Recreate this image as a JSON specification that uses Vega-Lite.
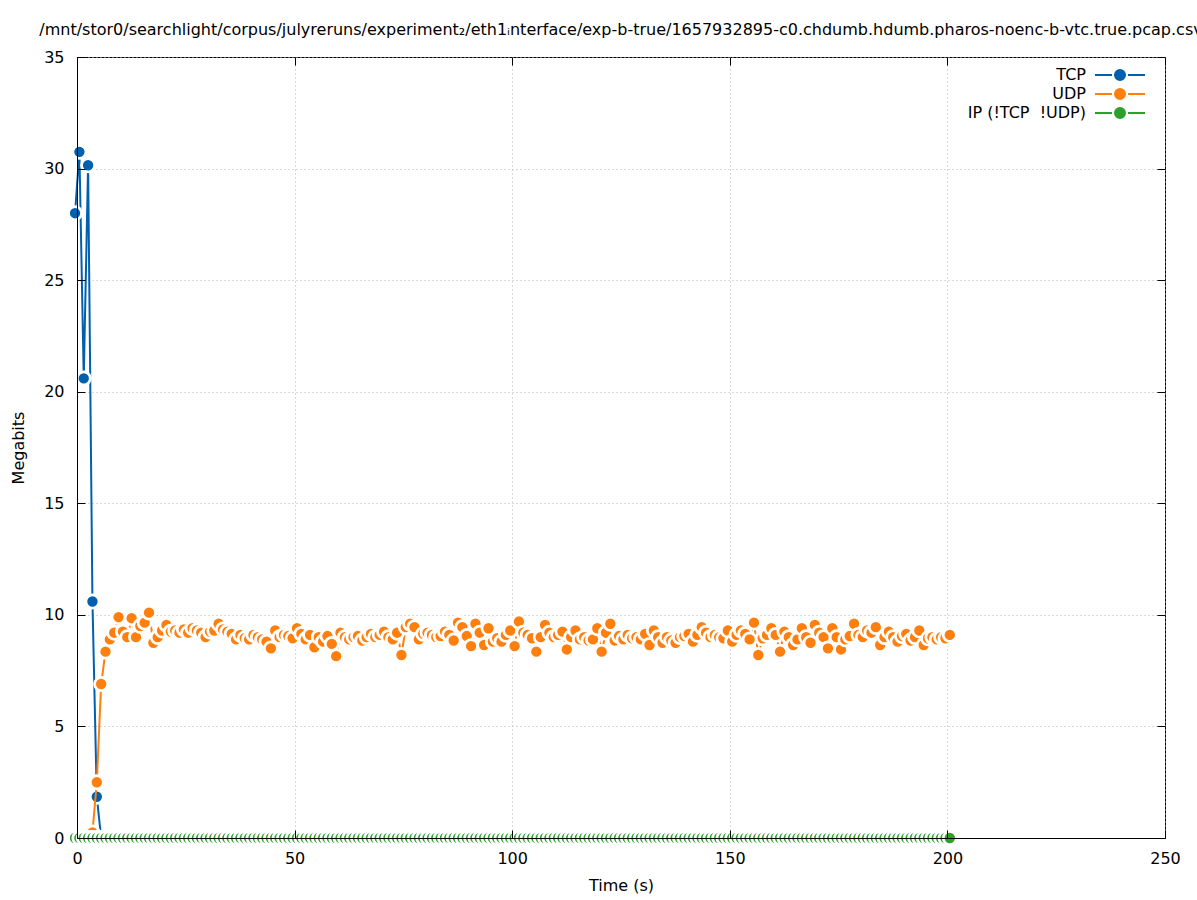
{
  "$schema": "https://vega.github.io/schema/vega-lite/v6.json",
  "autosize": {"type": "none"},
  "padding": {"left": 77, "top": 57, "right": 32, "bottom": 62},
  "width": 1088,
  "height": 781,
  "title": {"text": "/mnt/stor0/searchlight/corpus/julyreruns/experiment₂/eth1ᵢnterface/exp-b-true/1657932895-c0.chdumb.hdumb.pharos-noenc-b-vtc.true.pcap.csv", "fontSize": 16, "font": "DejaVu Sans", "fontWeight": "normal", "offset": 11, "anchor": "middle", "color": "black"},
  "config": {
    "view": {"stroke": "black", "strokeWidth": 1},
    "font": "DejaVu Sans",
    "axis": {"labelFont": "DejaVu Sans", "labelFontSize": 16, "labelColor": "black", "labelFlush": false, "titleFont": "DejaVu Sans", "titleFontSize": 16, "titleFontWeight": "normal", "titleColor": "black", "tickColor": "black", "tickSize": -8, "tickWidth": 1, "domainColor": "black", "domainWidth": 1, "gridColor": "#b4b4b4", "gridDash": [1, 3], "gridWidth": 1},
    "legend": {"orient": "none", "legendX": 1035, "legendY": 10, "symbolType": "M-5,0L-1.6,0M1.6,0L5,0M1,0A1,1,0,1,1,-1,0A1,1,0,1,1,1,0Z", "symbolSize": 100, "symbolStrokeWidth": 2, "labelAlign": "right", "labelOffset": -42, "labelFontSize": 16, "labelFont": "DejaVu Sans", "labelColor": "black", "rowPadding": 1, "padding": 0}
  },
  "datasets": {
    "tcp": [{"t": -0.45, "v": 28.0}, {"t": 0.55, "v": 30.75}, {"t": 1.55, "v": 20.6}, {"t": 2.55, "v": 30.15}, {"t": 3.55, "v": 10.6}, {"t": 4.55, "v": 1.85}, {"t": 5.55, "v": 0}],
    "udp": [
      {"t":3.55,"v":0.25},{"t":4.55,"v":2.5},{"t":5.55,"v":6.9},{"t":6.55,"v":8.35},{"t":7.55,"v":8.9},{"t":8.55,"v":9.2},{"t":9.55,"v":9.9},{"t":10.55,"v":9.25},{"t":11.55,"v":9.0},{"t":12.55,"v":9.85},
      {"t":13.55,"v":9.0},{"t":14.55,"v":9.5},{"t":15.55,"v":9.65},{"t":16.55,"v":10.1},{"t":17.55,"v":8.75},{"t":18.55,"v":9.0},{"t":19.55,"v":9.3},{"t":20.55,"v":9.55},{"t":21.55,"v":9.25},{"t":22.55,"v":9.3},
      {"t":23.55,"v":9.2},{"t":24.55,"v":9.35},{"t":25.55,"v":9.2},{"t":26.55,"v":9.4},{"t":27.55,"v":9.3},{"t":28.55,"v":9.2},{"t":29.55,"v":9.0},{"t":30.55,"v":9.25},{"t":31.55,"v":9.3},{"t":32.55,"v":9.6},
      {"t":33.55,"v":9.35},{"t":34.55,"v":9.25},{"t":35.55,"v":9.15},{"t":36.55,"v":8.9},{"t":37.55,"v":9.1},{"t":38.55,"v":8.95},{"t":39.55,"v":8.9},{"t":40.55,"v":9.1},{"t":41.55,"v":9.0},{"t":42.55,"v":8.9},
      {"t":43.55,"v":8.8},{"t":44.55,"v":8.5},{"t":45.55,"v":9.3},{"t":46.55,"v":9.0},{"t":47.55,"v":9.1},{"t":48.55,"v":9.05},{"t":49.55,"v":8.95},{"t":50.55,"v":9.4},{"t":51.55,"v":9.15},{"t":52.55,"v":8.9},
      {"t":53.55,"v":9.1},{"t":54.55,"v":8.55},{"t":55.55,"v":9.0},{"t":56.55,"v":8.8},{"t":57.55,"v":9.05},{"t":58.55,"v":8.7},{"t":59.55,"v":8.15},{"t":60.55,"v":9.2},{"t":61.55,"v":9.0},{"t":62.55,"v":8.9},
      {"t":63.55,"v":9.0},{"t":64.55,"v":9.05},{"t":65.55,"v":8.85},{"t":66.55,"v":9.0},{"t":67.55,"v":9.15},{"t":68.55,"v":9.0},{"t":69.55,"v":9.1},{"t":70.55,"v":9.25},{"t":71.55,"v":9.0},{"t":72.55,"v":8.9},
      {"t":73.55,"v":9.2},{"t":74.55,"v":8.2},{"t":75.55,"v":9.45},{"t":76.55,"v":9.6},{"t":77.55,"v":9.45},{"t":78.55,"v":8.9},{"t":79.55,"v":9.15},{"t":80.55,"v":9.2},{"t":81.55,"v":9.1},{"t":82.55,"v":9.0},
      {"t":83.55,"v":9.05},{"t":84.55,"v":9.25},{"t":85.55,"v":9.1},{"t":86.55,"v":8.85},{"t":87.55,"v":9.65},{"t":88.55,"v":9.45},{"t":89.55,"v":9.05},{"t":90.55,"v":8.6},{"t":91.55,"v":9.6},{"t":92.55,"v":9.2},
      {"t":93.55,"v":8.65},{"t":94.55,"v":9.4},{"t":95.55,"v":8.8},{"t":96.55,"v":8.95},{"t":97.55,"v":8.8},{"t":98.55,"v":9.1},{"t":99.55,"v":9.3},{"t":100.55,"v":8.6},{"t":101.55,"v":9.7},{"t":102.55,"v":9.2},
      {"t":103.55,"v":9.1},{"t":104.55,"v":8.95},{"t":105.55,"v":8.35},{"t":106.55,"v":9.0},{"t":107.55,"v":9.55},{"t":108.55,"v":9.2},{"t":109.55,"v":9.0},{"t":110.55,"v":9.1},{"t":111.55,"v":9.25},{"t":112.55,"v":8.45},
      {"t":113.55,"v":9.0},{"t":114.55,"v":9.3},{"t":115.55,"v":8.9},{"t":116.55,"v":9.0},{"t":117.55,"v":8.85},{"t":118.55,"v":8.9},{"t":119.55,"v":9.4},{"t":120.55,"v":8.35},{"t":121.55,"v":9.2},{"t":122.55,"v":9.6},
      {"t":123.55,"v":8.85},{"t":124.55,"v":9.05},{"t":125.55,"v":8.9},{"t":126.55,"v":9.1},{"t":127.55,"v":8.95},{"t":128.55,"v":9.0},{"t":129.55,"v":8.9},{"t":130.55,"v":9.15},{"t":131.55,"v":8.65},{"t":132.55,"v":9.3},
      {"t":133.55,"v":9.0},{"t":134.55,"v":8.75},{"t":135.55,"v":9.0},{"t":136.55,"v":8.85},{"t":137.55,"v":8.75},{"t":138.55,"v":9.0},{"t":139.55,"v":9.05},{"t":140.55,"v":9.15},{"t":141.55,"v":8.8},{"t":142.55,"v":9.1},
      {"t":143.55,"v":9.45},{"t":144.55,"v":9.2},{"t":145.55,"v":9.0},{"t":146.55,"v":9.1},{"t":147.55,"v":9.0},{"t":148.55,"v":8.95},{"t":149.55,"v":9.3},{"t":150.55,"v":8.8},{"t":151.55,"v":9.1},{"t":152.55,"v":9.3},
      {"t":153.55,"v":9.15},{"t":154.55,"v":8.9},{"t":155.55,"v":9.65},{"t":156.55,"v":8.2},{"t":157.55,"v":8.95},{"t":158.55,"v":9.1},{"t":159.55,"v":9.4},{"t":160.55,"v":9.1},{"t":161.55,"v":8.35},{"t":162.55,"v":9.25},
      {"t":163.55,"v":9.0},{"t":164.55,"v":8.65},{"t":165.55,"v":8.9},{"t":166.55,"v":9.4},{"t":167.55,"v":9.0},{"t":168.55,"v":8.75},{"t":169.55,"v":9.55},{"t":170.55,"v":9.2},{"t":171.55,"v":9.0},{"t":172.55,"v":8.5},
      {"t":173.55,"v":9.4},{"t":174.55,"v":9.0},{"t":175.55,"v":8.45},{"t":176.55,"v":8.9},{"t":177.55,"v":9.05},{"t":178.55,"v":9.6},{"t":179.55,"v":9.1},{"t":180.55,"v":9.0},{"t":181.55,"v":9.3},{"t":182.55,"v":9.2},
      {"t":183.55,"v":9.45},{"t":184.55,"v":8.65},{"t":185.55,"v":9.0},{"t":186.55,"v":9.25},{"t":187.55,"v":9.0},{"t":188.55,"v":8.8},{"t":189.55,"v":9.05},{"t":190.55,"v":9.15},{"t":191.55,"v":8.85},{"t":192.55,"v":9.0},
      {"t":193.55,"v":9.3},{"t":194.55,"v":8.65},{"t":195.55,"v":8.95},{"t":196.55,"v":9.0},{"t":197.55,"v":8.9},{"t":198.55,"v":9.0},{"t":199.55,"v":8.95},{"t":200.55,"v":9.1}
    ],
    "ip": [
      {"t":-0.45,"v":0},{"t":0.55,"v":0},{"t":1.55,"v":0},{"t":2.55,"v":0},{"t":3.55,"v":0},{"t":4.55,"v":0},{"t":5.55,"v":0},{"t":6.55,"v":0},{"t":7.55,"v":0},{"t":8.55,"v":0},
      {"t":9.55,"v":0},{"t":10.55,"v":0},{"t":11.55,"v":0},{"t":12.55,"v":0},{"t":13.55,"v":0},{"t":14.55,"v":0},{"t":15.55,"v":0},{"t":16.55,"v":0},{"t":17.55,"v":0},{"t":18.55,"v":0},
      {"t":19.55,"v":0},{"t":20.55,"v":0},{"t":21.55,"v":0},{"t":22.55,"v":0},{"t":23.55,"v":0},{"t":24.55,"v":0},{"t":25.55,"v":0},{"t":26.55,"v":0},{"t":27.55,"v":0},{"t":28.55,"v":0},
      {"t":29.55,"v":0},{"t":30.55,"v":0},{"t":31.55,"v":0},{"t":32.55,"v":0},{"t":33.55,"v":0},{"t":34.55,"v":0},{"t":35.55,"v":0},{"t":36.55,"v":0},{"t":37.55,"v":0},{"t":38.55,"v":0},
      {"t":39.55,"v":0},{"t":40.55,"v":0},{"t":41.55,"v":0},{"t":42.55,"v":0},{"t":43.55,"v":0},{"t":44.55,"v":0},{"t":45.55,"v":0},{"t":46.55,"v":0},{"t":47.55,"v":0},{"t":48.55,"v":0},
      {"t":49.55,"v":0},{"t":50.55,"v":0},{"t":51.55,"v":0},{"t":52.55,"v":0},{"t":53.55,"v":0},{"t":54.55,"v":0},{"t":55.55,"v":0},{"t":56.55,"v":0},{"t":57.55,"v":0},{"t":58.55,"v":0},
      {"t":59.55,"v":0},{"t":60.55,"v":0},{"t":61.55,"v":0},{"t":62.55,"v":0},{"t":63.55,"v":0},{"t":64.55,"v":0},{"t":65.55,"v":0},{"t":66.55,"v":0},{"t":67.55,"v":0},{"t":68.55,"v":0},
      {"t":69.55,"v":0},{"t":70.55,"v":0},{"t":71.55,"v":0},{"t":72.55,"v":0},{"t":73.55,"v":0},{"t":74.55,"v":0},{"t":75.55,"v":0},{"t":76.55,"v":0},{"t":77.55,"v":0},{"t":78.55,"v":0},
      {"t":79.55,"v":0},{"t":80.55,"v":0},{"t":81.55,"v":0},{"t":82.55,"v":0},{"t":83.55,"v":0},{"t":84.55,"v":0},{"t":85.55,"v":0},{"t":86.55,"v":0},{"t":87.55,"v":0},{"t":88.55,"v":0},
      {"t":89.55,"v":0},{"t":90.55,"v":0},{"t":91.55,"v":0},{"t":92.55,"v":0},{"t":93.55,"v":0},{"t":94.55,"v":0},{"t":95.55,"v":0},{"t":96.55,"v":0},{"t":97.55,"v":0},{"t":98.55,"v":0},
      {"t":99.55,"v":0},{"t":100.55,"v":0},{"t":101.55,"v":0},{"t":102.55,"v":0},{"t":103.55,"v":0},{"t":104.55,"v":0},{"t":105.55,"v":0},{"t":106.55,"v":0},{"t":107.55,"v":0},{"t":108.55,"v":0},
      {"t":109.55,"v":0},{"t":110.55,"v":0},{"t":111.55,"v":0},{"t":112.55,"v":0},{"t":113.55,"v":0},{"t":114.55,"v":0},{"t":115.55,"v":0},{"t":116.55,"v":0},{"t":117.55,"v":0},{"t":118.55,"v":0},
      {"t":119.55,"v":0},{"t":120.55,"v":0},{"t":121.55,"v":0},{"t":122.55,"v":0},{"t":123.55,"v":0},{"t":124.55,"v":0},{"t":125.55,"v":0},{"t":126.55,"v":0},{"t":127.55,"v":0},{"t":128.55,"v":0},
      {"t":129.55,"v":0},{"t":130.55,"v":0},{"t":131.55,"v":0},{"t":132.55,"v":0},{"t":133.55,"v":0},{"t":134.55,"v":0},{"t":135.55,"v":0},{"t":136.55,"v":0},{"t":137.55,"v":0},{"t":138.55,"v":0},
      {"t":139.55,"v":0},{"t":140.55,"v":0},{"t":141.55,"v":0},{"t":142.55,"v":0},{"t":143.55,"v":0},{"t":144.55,"v":0},{"t":145.55,"v":0},{"t":146.55,"v":0},{"t":147.55,"v":0},{"t":148.55,"v":0},
      {"t":149.55,"v":0},{"t":150.55,"v":0},{"t":151.55,"v":0},{"t":152.55,"v":0},{"t":153.55,"v":0},{"t":154.55,"v":0},{"t":155.55,"v":0},{"t":156.55,"v":0},{"t":157.55,"v":0},{"t":158.55,"v":0},
      {"t":159.55,"v":0},{"t":160.55,"v":0},{"t":161.55,"v":0},{"t":162.55,"v":0},{"t":163.55,"v":0},{"t":164.55,"v":0},{"t":165.55,"v":0},{"t":166.55,"v":0},{"t":167.55,"v":0},{"t":168.55,"v":0},
      {"t":169.55,"v":0},{"t":170.55,"v":0},{"t":171.55,"v":0},{"t":172.55,"v":0},{"t":173.55,"v":0},{"t":174.55,"v":0},{"t":175.55,"v":0},{"t":176.55,"v":0},{"t":177.55,"v":0},{"t":178.55,"v":0},
      {"t":179.55,"v":0},{"t":180.55,"v":0},{"t":181.55,"v":0},{"t":182.55,"v":0},{"t":183.55,"v":0},{"t":184.55,"v":0},{"t":185.55,"v":0},{"t":186.55,"v":0},{"t":187.55,"v":0},{"t":188.55,"v":0},
      {"t":189.55,"v":0},{"t":190.55,"v":0},{"t":191.55,"v":0},{"t":192.55,"v":0},{"t":193.55,"v":0},{"t":194.55,"v":0},{"t":195.55,"v":0},{"t":196.55,"v":0},{"t":197.55,"v":0},{"t":198.55,"v":0},
      {"t":199.55,"v":0},{"t":200.55,"v":0}
    ]
  },
  "layer": [
    {
      "data": {"name": "tcp"},
      "mark": {"type": "line", "strokeWidth": 2},
      "encoding": {
        "x": {"field": "t", "type": "quantitative", "scale": {"domain": [0, 250], "nice": false, "zero": false}, "axis": {"orient": "bottom", "grid": false, "zindex": 1, "values": [0, 50, 100, 150, 200, 250], "labelPadding": 20, "title": "Time (s)", "titlePadding": 11, "domain": true}},
        "y": {"field": "v", "type": "quantitative", "scale": {"domain": [0, 35], "nice": false, "zero": false}, "axis": {"orient": "left", "grid": false, "zindex": 1, "values": [0, 5, 10, 15, 20, 25, 30, 35], "labelPadding": 21, "title": "Megabits", "titlePadding": 17, "domain": true}},
        "color": {"datum": "TCP", "type": "nominal", "scale": {"domain": ["TCP", "UDP", "IP (!TCP\u00a0\u00a0!UDP)"], "range": ["#0060ad", "#ff7f0e", "#2ca02c"]}, "legend": {"title": null, "encode": {"symbols": {"update": {"fill": {"scale": "color", "field": "value"}, "stroke": {"scale": "color", "field": "value"}, "strokeWidth": {"value": 2}}}}}}
      }
    },
    {
      "data": {"name": "tcp"},
      "mark": {"type": "point", "filled": true, "size": 172, "stroke": "white", "strokeWidth": 2.75, "opacity": 1, "strokeOpacity": 1},
      "encoding": {
        "x": {"field": "t", "type": "quantitative", "axis": {"orient": "top", "grid": true, "zindex": 0, "values": [0, 50, 100, 150, 200, 250], "labels": false, "title": null, "domain": false}},
        "y": {"field": "v", "type": "quantitative", "axis": {"orient": "right", "grid": true, "zindex": 0, "values": [0, 5, 10, 15, 20, 25, 30, 35], "labels": false, "title": null, "domain": false}},
        "color": {"datum": "TCP", "type": "nominal", "legend": {"title": null}}
      }
    },
    {
      "data": {"name": "udp"},
      "mark": {"type": "line", "strokeWidth": 2},
      "encoding": {
        "x": {"field": "t", "type": "quantitative", "axis": null},
        "y": {"field": "v", "type": "quantitative", "axis": null},
        "color": {"datum": "UDP", "type": "nominal", "legend": {"title": null}}
      }
    },
    {
      "data": {"name": "udp"},
      "mark": {"type": "point", "filled": true, "size": 172, "stroke": "white", "strokeWidth": 2.75, "opacity": 1, "strokeOpacity": 1},
      "encoding": {
        "x": {"field": "t", "type": "quantitative", "axis": null},
        "y": {"field": "v", "type": "quantitative", "axis": null},
        "color": {"datum": "UDP", "type": "nominal", "legend": {"title": null}}
      }
    },
    {
      "data": {"name": "ip"},
      "mark": {"type": "line", "strokeWidth": 2},
      "encoding": {
        "x": {"field": "t", "type": "quantitative", "axis": null},
        "y": {"field": "v", "type": "quantitative", "axis": null},
        "color": {"datum": "IP (!TCP\u00a0\u00a0!UDP)", "type": "nominal", "legend": {"title": null}}
      }
    },
    {
      "data": {"name": "ip"},
      "mark": {"type": "point", "filled": true, "size": 172, "stroke": "white", "strokeWidth": 2.75, "opacity": 1, "strokeOpacity": 1},
      "encoding": {
        "x": {"field": "t", "type": "quantitative", "axis": null},
        "y": {"field": "v", "type": "quantitative", "axis": null},
        "color": {"datum": "IP (!TCP\u00a0\u00a0!UDP)", "type": "nominal", "legend": {"title": null}}
      }
    }
  ]
}
